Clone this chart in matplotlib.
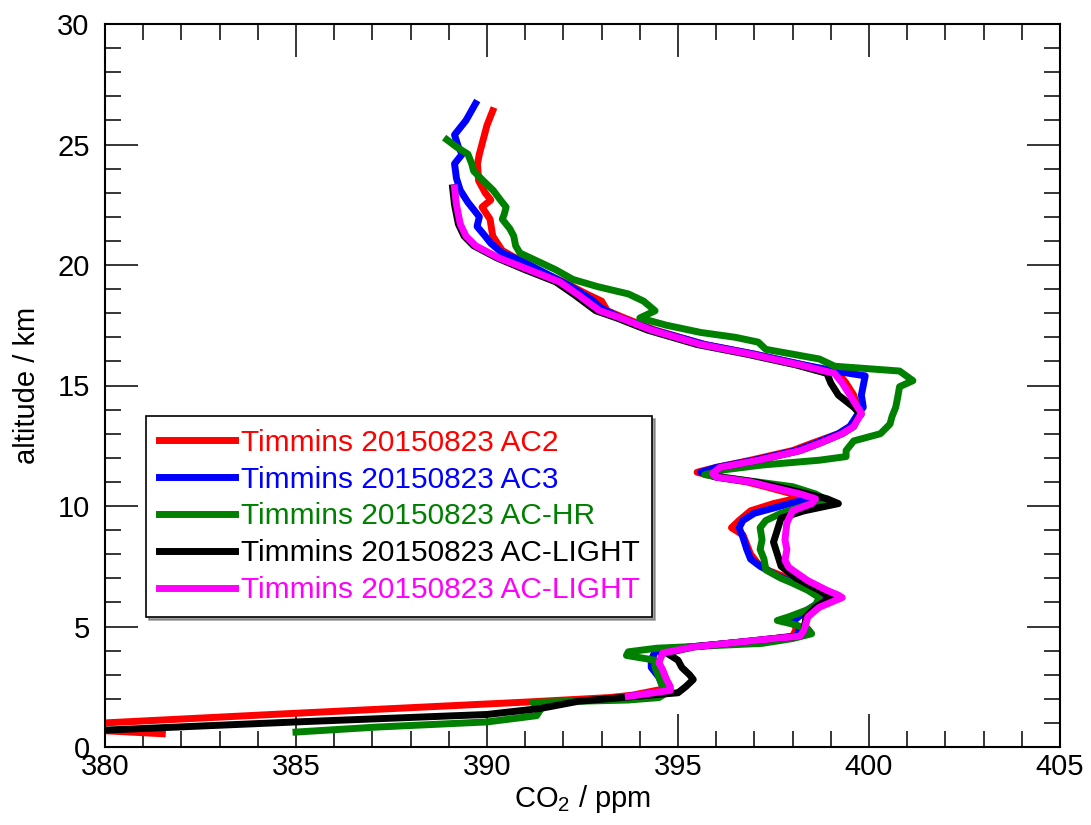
import numpy as np
import matplotlib
matplotlib.use("Agg")
import matplotlib.pyplot as plt
from matplotlib.ticker import MultipleLocator

plt.rcParams['font.family'] = ['Liberation Sans', 'DejaVu Sans']
plt.rcParams['mathtext.fontset'] = 'custom'
plt.rcParams['mathtext.rm'] = 'Liberation Sans'
plt.rcParams['mathtext.default'] = 'regular'

# AC2 (red)
ac2_km = [26.4, 25.8, 25.2, 24.6, 24.2, 23.5, 23.0, 22.7, 22.4, 21.9, 21.2, 20.6, 20.2, 19.8,
          19.3, 18.8, 18.5, 18.1, 17.8, 17.3, 16.7, 16.3, 15.85, 15.5, 15.1, 14.6, 14.1, 13.8,
          13.3, 13.0, 12.6, 12.3, 11.9, 11.6, 11.4, 11.2, 11.0, 10.8, 10.5, 10.35, 10.1, 9.8,
          9.4, 9.1, 8.8, 8.4, 8.0, 7.6, 7.3, 7.0, 6.6, 6.3, 6.0, 5.6, 5.2, 4.9, 4.6, 4.4,
          4.15, 3.95, 3.6, 3.2, 2.8, 2.4, 2.15, 2.05, 1.87, 1.4, 1.0, 0.8, 0.55]
ac2_ppm = [390.15, 390.0, 389.9, 389.8, 389.75, 389.78, 389.95, 390.1, 389.87, 390.08, 390.15,
           390.4, 390.85, 391.3, 392.0, 392.6, 393.0, 393.15, 393.6, 394.4, 395.7, 397.0,
           398.3, 399.2, 399.4, 399.6, 399.7, 399.8, 399.5, 399.2, 398.5, 398.0, 396.9,
           396.0, 395.5, 396.0, 396.8, 397.3, 398.0, 398.2, 397.5, 396.9, 396.6, 396.4,
           396.7, 396.8, 396.9, 397.1, 397.4, 397.9, 398.4, 398.9, 398.8, 398.3, 398.0,
           398.1, 398.0, 397.0, 395.3, 394.4, 394.3, 394.4, 394.6, 394.6, 393.8, 393.2,
           391.1, 385.0, 380.0, 378.5, 381.5]

# AC3 (blue)
ac3_km = [26.7, 26.0, 25.4, 24.9, 24.6, 24.2, 23.6, 23.1, 22.6, 22.0, 21.6, 21.2, 20.9, 20.5,
          20.1, 19.6, 19.1, 18.6, 18.2, 17.8, 17.3, 16.7, 16.3, 15.85, 15.55, 15.4, 15.0,
          14.6, 14.1, 13.8, 13.3, 13.0, 12.6, 12.3, 11.9, 11.6, 11.4, 11.2, 11.0, 10.8, 10.5,
          10.3, 10.0, 9.7, 9.4, 9.1, 8.7, 8.2, 7.8, 7.5, 7.1, 6.7, 6.3, 6.0, 5.6, 5.2, 4.9,
          4.6, 4.4, 4.15, 3.95, 3.6, 3.3, 2.9, 2.5, 2.3, 2.1]
ac3_ppm = [389.7, 389.45, 389.15, 389.25, 389.35, 389.15, 389.2, 389.3, 389.5, 389.8, 389.74,
           389.95, 390.1, 390.4, 391.0, 391.6, 392.2, 392.7, 393.0, 393.5, 394.35, 395.7,
           397.0, 398.3, 399.3, 399.9, 399.85, 399.8, 399.85, 399.7, 399.5, 399.2, 398.6,
           398.1, 397.0, 396.0, 395.6, 396.0, 396.9, 397.5, 398.3, 398.4, 397.7, 397.0,
           396.7, 396.6, 396.7, 396.8, 396.9, 397.15, 397.6, 398.2, 398.8, 398.7, 398.3,
           398.0, 398.2, 398.1, 397.0, 395.3, 394.4, 394.3, 394.3, 394.5, 394.6, 394.7, 393.7]

# AC-HR (green)
achr_km = [25.2, 24.9, 24.6, 24.2, 23.9, 23.5, 23.1, 22.7, 22.4, 22.1, 21.9, 21.5, 21.2, 20.8,
           20.5, 20.1, 19.8, 19.4, 19.1, 18.8, 18.5, 18.1, 17.8, 17.5, 17.2, 17.0, 16.8, 16.5,
           16.3, 16.1, 15.8, 15.6, 15.2, 14.95, 14.5, 14.1, 13.7, 13.4, 13.0, 12.7, 12.3,
           12.05, 11.9, 11.7, 11.5, 11.3, 11.1, 10.8, 10.5, 10.25, 10.0, 9.7, 9.4, 9.1, 8.6,
           8.2, 7.8, 7.35, 7.0, 6.8, 6.5, 6.2, 5.9, 5.7, 5.4, 5.25, 5.1, 4.9, 4.7, 4.5, 4.3,
           4.1, 3.95, 3.8, 3.6, 3.3, 2.9, 2.5, 2.25, 2.05, 1.95, 1.85, 1.55, 1.3, 1.04, 0.83,
           0.62]
achr_ppm = [388.95, 389.2, 389.5, 389.6, 389.65, 389.9, 390.16, 390.35, 390.5, 390.45, 390.4,
            390.6, 390.7, 390.75, 390.86, 391.4, 391.8, 392.25, 392.9, 393.7, 394.1, 394.4,
            394.0, 394.7, 395.6, 396.5, 397.1, 397.3, 398.0, 398.7, 399.1, 400.8, 401.15,
            400.8, 400.75, 400.7, 400.6, 400.55, 400.3, 399.6, 399.4, 399.4, 398.7, 397.2,
            396.2, 395.7, 396.6, 398.0, 398.6, 398.9, 398.3, 397.7, 397.3, 397.15, 397.2,
            397.15, 397.25, 397.3, 397.7, 398.0, 398.4, 398.7, 398.6, 398.4, 397.9, 397.6,
            398.0, 398.4, 398.5, 398.0, 397.2, 394.45, 393.7, 393.65, 394.4, 394.4, 394.5,
            394.6, 394.7, 394.5, 393.7, 391.2, 391.4, 391.3, 390.0, 387.15, 385.0]

# AC-LIGHT (black)
light1_km = [23.2, 22.5, 21.7, 21.2, 20.8, 20.3, 19.8, 19.3, 18.75, 18.1, 17.8, 17.3, 16.7,
             16.3, 15.85, 15.5, 15.1, 14.6, 14.1, 13.85, 13.3, 13.0, 12.6, 12.3, 11.9, 11.6,
             11.35, 11.2, 11.0, 10.8, 10.5, 10.3, 10.1, 9.8, 9.5, 9.0, 8.5, 8.0, 7.5, 7.0,
             6.5, 6.2, 5.8, 5.4, 4.85, 4.6, 4.45, 4.15, 3.9, 3.6, 3.3, 3.0, 2.8, 2.5, 2.25,
             2.1, 1.9, 1.6, 1.35, 1.04, 0.7, 0.6]
light1_ppm = [389.1, 389.15, 389.25, 389.4, 389.65, 390.25, 391.0, 391.8, 392.3, 392.85, 393.4,
              394.2, 395.5, 396.8, 398.1, 398.9, 399.0, 399.2, 399.6, 399.75, 399.6, 399.3,
              398.7, 398.2, 397.1, 396.1, 395.9, 396.1, 397.0, 397.6, 398.4, 398.9, 399.2,
              398.3, 397.7, 397.6, 397.5, 397.6, 397.7, 398.1, 398.7, 399.0, 398.6, 398.35,
              398.3, 398.2, 397.2, 395.4, 394.7, 395.0, 395.1, 395.3, 395.4, 395.2, 395.0,
              393.9, 392.4, 391.4, 390.0, 385.0, 380.0, 378.0]

# AC-LIGHT (magenta)
light2_km = [23.2, 22.5, 21.7, 21.2, 20.8, 20.3, 19.8, 19.3, 18.75, 18.1, 17.8, 17.3, 16.7,
             16.3, 15.85, 15.5, 15.1, 14.6, 14.1, 13.85, 13.3, 13.0, 12.6, 12.3, 11.9, 11.6,
             11.35, 11.2, 11.0, 10.8, 10.5, 10.3, 10.1, 9.8, 9.3, 8.6, 8.2, 7.75, 7.45, 6.9,
             6.5, 6.3, 6.2, 5.8, 5.4, 4.85, 4.6, 4.45, 4.15, 3.9, 3.5, 3.2, 2.8, 2.5, 2.35,
             2.1]
light2_ppm = [389.15, 389.2, 389.3, 389.45, 389.7, 390.3, 391.1, 391.9, 392.4, 392.95, 393.5,
              394.3, 395.6, 396.9, 398.2, 399.1, 399.3, 399.5, 399.7, 399.8, 399.6, 399.3,
              398.7, 398.2, 397.1, 396.1, 395.9, 396.0, 396.9, 397.4, 398.2, 398.6, 398.5,
              398.0, 397.85, 397.8, 397.85, 397.8, 397.9, 398.4, 398.9, 399.2, 399.3, 398.7,
              398.4, 398.3, 398.2, 397.2, 395.4, 394.6, 394.5, 394.6, 394.7, 394.8, 394.8,
              393.7]

series = [
    (ac2_ppm, ac2_km, '#ff0000', 'Timmins 20150823 AC2'),
    (ac3_ppm, ac3_km, '#0000ff', 'Timmins 20150823 AC3'),
    (achr_ppm, achr_km, '#008000', 'Timmins 20150823 AC-HR'),
    (light1_ppm, light1_km, '#000000', 'Timmins 20150823 AC-LIGHT'),
    (light2_ppm, light2_km, '#ff00ff', 'Timmins 20150823 AC-LIGHT'),
]

fig = plt.figure(figsize=(10.91, 8.25), dpi=100)
ax = fig.add_axes([105/1091, 78/825, 955/1091, 723/825])

for x, y, c, lab in series:
    ax.plot(x, y, color=c, lw=5, label=lab)

ax.set_xlim(380, 405)
ax.set_ylim(0, 30)
ax.xaxis.set_major_locator(MultipleLocator(5))
ax.xaxis.set_minor_locator(MultipleLocator(1))
ax.yaxis.set_major_locator(MultipleLocator(5))
ax.yaxis.set_minor_locator(MultipleLocator(1))
ax.tick_params(which='both', direction='in', top=True, right=True, width=1.1)
ax.tick_params(which='major', length=23.5)
ax.tick_params(which='minor', length=11.8)
ax.tick_params(axis='x', which='major', labelsize=21, pad=4)
ax.tick_params(axis='y', which='major', labelsize=21, pad=11)
for s in ax.spines.values():
    s.set_linewidth(1.5)

ax.set_xlabel('CO$_2$ / ppm', fontsize=21, labelpad=2)
ax.set_ylabel('altitude / km', fontsize=21, labelpad=12)

leg = ax.legend(loc='upper left', bbox_to_anchor=(146/1091, 1 - 416/825),
                bbox_transform=fig.transFigure, fontsize=21.5, frameon=True,
                fancybox=False, shadow=True, edgecolor='black', framealpha=1,
                handlelength=2.55, handletextpad=0.2, labelspacing=0.3,
                borderpad=0.42, borderaxespad=0)
leg.get_frame().set_linewidth(1.2)
for t, l in zip(leg.get_texts(), leg.get_lines()):
    t.set_color(l.get_color())

fig.savefig('out.png', dpi=100)
